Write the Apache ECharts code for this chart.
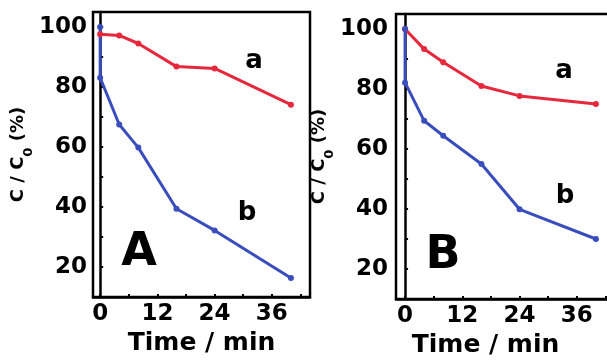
<!DOCTYPE html>
<html>
<head>
<meta charset="utf-8">
<script src="https://cdn.jsdelivr.net/npm/echarts@6/dist/echarts.min.js"></script>
<style>
  html, body { margin: 0; padding: 0; background: #fff; }
  #chart { width: 607px; height: 360px; }
</style>
</head>
<body>
<div id="chart"></div>
<script>
// time points (min)
var redTime = [0, 4, 8, 16, 24, 40];
var blueTime = [0, 0, 4, 8, 16, 24, 40];

// C/C0 (%) values, panel A and panel B
var redA = [97.6, 97.2, 94.5, 86.8, 86.2, 74.1];
var blueA = [100, 83.1, 67.5, 59.8, 39.4, 32.2, 16.3];
var redB = [100, 93.3, 88.9, 81.0, 77.7, 75.0];
var blueB = [100, 82.1, 69.4, 64.4, 55.0, 39.9, 30.0];

// ticks and labels
var xTicks = [0, 6, 12, 18, 24, 30, 36, 42];
var xLabels = [0, 12, 24, 36];
var yTicks = [20, 30, 40, 50, 60, 70, 80, 90, 100];
var yLabels = [20, 40, 60, 80, 100];

var RED = "#e5283c";
var BLUE = "#3a4dbd";
var FONT = "DejaVu Sans";

function zip(xs, ys) {
  return xs.map(function (x, i) { return [x, ys[i]]; });
}

function grid(left, top, width) {
  return {
    left: left, top: top, width: width, height: 285,
    show: true, borderColor: "#000", borderWidth: 2.5,
    containLabel: false, outerBoundsMode: "none"
  };
}

function xAxis(i, min, namePad) {
  return {
    type: "value", gridIndex: i, min: min, max: 44,
    name: "Time / min", nameLocation: "middle", nameGap: 41,
    nameTextStyle: { fontFamily: FONT, fontWeight: "bold", fontSize: 25, color: "#000", verticalAlign: "middle", padding: namePad },
    axisLine: { lineStyle: { color: "#000", width: 2.5 } },
    axisTick: { inside: true, length: 3, customValues: xTicks, lineStyle: { color: "#000", width: 2 } },
    axisLabel: { customValues: xLabels, margin: 6, fontFamily: FONT, fontWeight: "bold", fontSize: 23, color: "#000" },
    splitLine: { show: false }
  };
}

function yAxis(i, labelMargin, nameGap) {
  return {
    type: "value", gridIndex: i, min: 10, max: 105,
    name: "C / C{s|0} (%)", nameLocation: "middle", nameGap: nameGap,
    nameTextStyle: {
      fontFamily: FONT, fontWeight: "bold", fontSize: 18, color: "#000",
      rich: { s: { fontFamily: FONT, fontWeight: "bold", fontSize: 13, color: "#000", verticalAlign: "bottom", padding: [0, 0, -8, 0] } }
    },
    axisLine: { lineStyle: { color: "#000", width: 2.5 } },
    axisTick: { inside: true, length: 3, customValues: yTicks, lineStyle: { color: "#000", width: 2 } },
    axisLabel: { customValues: yLabels, margin: labelMargin, fontFamily: FONT, fontWeight: "bold", fontSize: 23, color: "#000" },
    splitLine: { show: false }
  };
}

function line(i, data, color) {
  return {
    type: "line", xAxisIndex: i, yAxisIndex: i, data: data,
    symbol: "circle", symbolSize: 6,
    lineStyle: { color: color, width: 3 },
    itemStyle: { color: color },
    animation: false
  };
}

function txt(s, x, y, size) {
  return {
    type: "text", x: x, y: y,
    style: { text: s, font: "bold " + size + "px '" + FONT + "'", fill: "#000", align: "center", verticalAlign: "middle" }
  };
}

var chart = echarts.init(document.getElementById("chart"));
chart.setOption({
  backgroundColor: "#fff",
  animation: false,
  grid: [grid(93, 12, 217), grid(396, 14, 219)],
  xAxis: [xAxis(0, -1.5, [0, 0, 0, 0]), xAxis(1, -1.9, [0, 40, 0, 0])],
  yAxis: [yAxis(0, 6, 60), yAxis(1, 8, 57)],
  series: [
    line(0, zip(redTime, redA), RED),
    line(0, zip(blueTime, blueA), BLUE),
    line(1, zip(redTime, redB), RED),
    line(1, zip(blueTime, blueB), BLUE)
  ],
  graphic: [
    txt("A", 139, 253, 46),
    txt("a", 254, 61, 26),
    txt("b", 247, 213, 26),
    txt("B", 443, 256, 46),
    txt("a", 564, 71, 26),
    txt("b", 565, 196, 26)
  ]
});
</script>
</body>
</html>
